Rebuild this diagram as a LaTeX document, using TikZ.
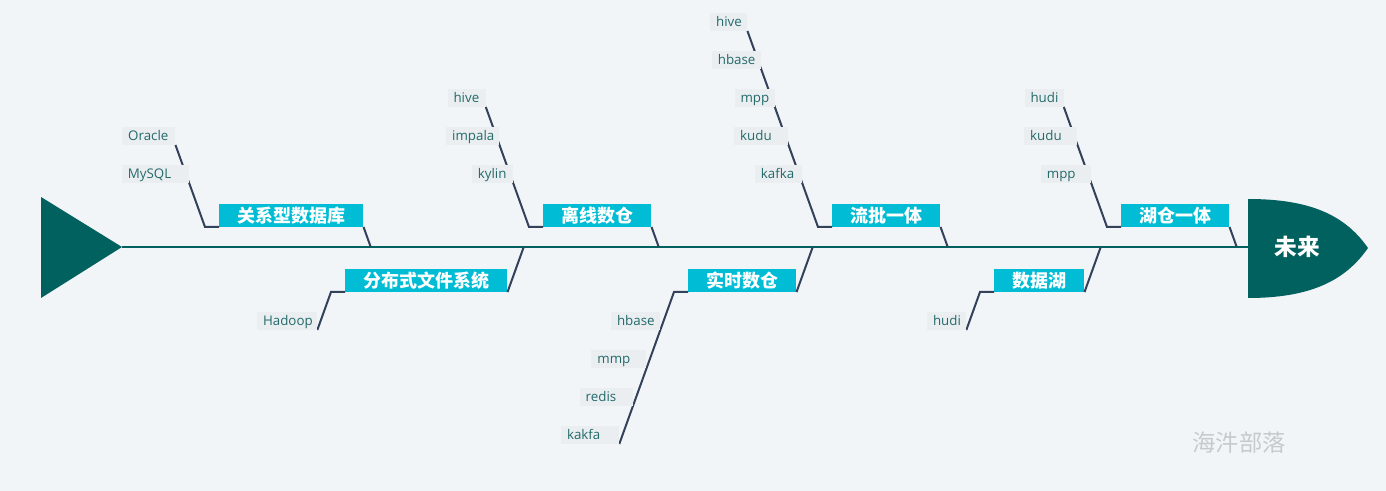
\documentclass[tikz,border=0pt]{standalone}
\usepackage{fontspec}
\setmainfont{Open Sans}
\newfontfamily\cjk{Noto Sans CJK SC}
\definecolor{bg}{HTML}{F2F5F8}
\definecolor{fishteal}{HTML}{00615F}
\definecolor{catcyan}{HTML}{00BCD4}
\definecolor{bonegray}{HTML}{34415A}
\definecolor{tagfill}{HTML}{EBEEF0}
\definecolor{tagtext}{HTML}{236A6B}
\definecolor{markgray}{HTML}{C6CACF}
\begin{document}
\begin{tikzpicture}[x=0.75pt, y=-0.75pt,
	cat/.style={fill=catcyan, text=white, font=\cjk\bfseries\fontsize{13.5}{14}\selectfont, inner xsep=13.5pt, inner ysep=0pt, minimum height=17.25pt},
	tag/.style={fill=tagfill, text=tagtext, font=\fontsize{10}{11}\selectfont, inner xsep=4.5pt, inner ysep=0pt, minimum height=13.5pt, text height=9pt, text depth=1.5pt, align=left},
	bone/.style={draw=bonegray, line width=1.5pt}]
	\fill [bg] (0,0) rectangle (1386,491);
	% spine, tail and head
	\coordinate (tail) at (122,247);
	\coordinate (head) at (1248,247);
	\fill [fishteal] (41,197) -- (tail) -- (41,298) -- cycle;
	\draw [fishteal, line width=1.7pt] (tail) -- (head);
	\fill [fishteal] (1248,199) .. controls (1310,199) and (1345,215) .. (1368,248) .. controls (1345,281) and (1310,298) .. (1248,298) -- cycle;
	\node (future) [text=white, font=\cjk\bfseries\fontsize{17}{18}\selectfont] at (1297,247) {未来};
	% bones above the spine
	\foreach \n/\bx/\txt/\k/\tags in {
		1/219/关系型数据库/2/{MySQL/41.25,Oracle/30.75},
		2/543/离线数仓/3/{kylin/21.75,impala/30.75,hive/19.5},
		3/832/流批一体/5/{kafka/26.25,kudu/31.5,mpp/21,hbase/27.75,hive/18.75},
		4/1121/湖仓一体/3/{mpp/28.5,kudu/30.75,hudi/20.25}}{
	\node (up\n) [cat, anchor=south west] at (\bx,227) {\txt};
	\coordinate (up\n-c) at (\bx-14,227);
	\coordinate (up\n-top) at ({\bx-14-0.36*(6+38*\k)},{221-38*\k});
	\path (up\n.south east) ++(7.2,20) coordinate (up\n-s);
	\draw [bone] (up\n.south east) -- (up\n-s);
	\draw [bone] (up\n.south west) -- (up\n-c) -- (up\n-top);
	\foreach \t/\w [count=\i] in \tags
		\node (up\n-\i) [tag, text width=\w pt, anchor=south east] at ({\bx-14-0.36*(6+38*\i)},{221-38*\i}) {\t};
	}
	% bones below the spine
	\foreach \n/\bx/\txt/\k/\tags in {
		1/345/分布式文件系统/1/{Hadoop/36},
		2/688/实时数仓/4/{hbase/27.75,mmp/32.25,redis/30.75,kakfa/34.5},
		3/994/数据湖/1/{hudi/20.25}}{
	\node (lo\n) [cat, anchor=south west] at (\bx,292) {\txt};
	\coordinate (lo\n-c) at (\bx-14,292);
	\coordinate (lo\n-end) at ({\bx-14-13.68*\k},{292+38*\k});
	\path (lo\n.south east) ++(16.2,-45) coordinate (lo\n-s);
	\draw [bone] (lo\n.south east) -- (lo\n-s);
	\draw [bone] (lo\n.south west) -- (lo\n-c) -- (lo\n-end);
	\foreach \t/\w [count=\i] in \tags
		\node (lo\n-\i) [tag, text width=\w pt, anchor=south east] at ({\bx-14-13.68*\i},{292+38*\i}) {\t};
	}
	\node (mark) [text=markgray, font=\cjk\fontsize{17.5}{18}\selectfont] at (1239,443) {海汼部落};
\end{tikzpicture}
\end{document}
